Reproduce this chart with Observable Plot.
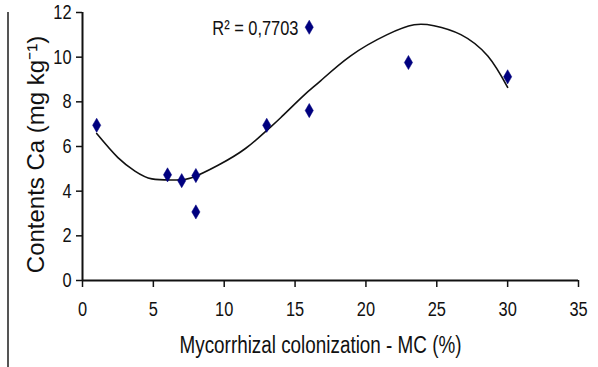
<!DOCTYPE html>
<html>
<head>
<meta charset="utf-8">
<script src="https://cdn.jsdelivr.net/npm/d3@7"></script>
<script src="https://cdn.jsdelivr.net/npm/@observablehq/plot@0.6"></script>
<style>
  html, body { margin: 0; padding: 0; background: #fff; }
  #wrap { position: relative; width: 598px; height: 367px; overflow: hidden; }
  #leftline { position: absolute; left: 7px; top: 12px; width: 2px; height: 355px; background: #555; }
</style>
</head>
<body>
<div id="wrap"><div id="chart"></div><div id="leftline"></div></div>
<script>
// Observed points: mycorrhizal colonization (%) vs Ca content (mg kg-1)
const mc = [1, 6, 7, 8, 8, 13, 16, 16, 23, 30];
const ca = [6.95, 4.73, 4.47, 4.70, 3.07, 6.95, 7.61, 11.34, 9.76, 9.12];

// Polynomial trendline
const trendX = [1, 2.5, 3.7, 4.9, 6.5, 7.7, 9.6, 11.5, 13, 14, 15.6, 16.8, 18.9, 21.5, 23.4, 24.8, 26.7, 28.6, 30];
const trendY = [6.58, 5.5, 4.9, 4.55, 4.5, 4.6, 5.17, 5.91, 6.72, 7.3, 8.28, 8.94, 10.05, 11.01, 11.45, 11.41, 11.01, 10.05, 8.65];

const xTicks = [0, 5, 10, 15, 20, 25, 30, 35];
const yTicks = [0, 2, 4, 6, 8, 10, 12];

const r2Label = ["R² = 0,7703"];
const r2Pos = {x: 12.2, y: 11.3};

const xTitle = "Mycorrhizal colonization - MC (%)";
const yTitle = "Contents Ca (mg kg⁻¹)";

const points = mc.map((x, i) => ({x, y: ca[i]}));
const trend = trendX.map((x, i) => ({x, y: trendY[i]}));

const sans = "'Liberation Sans', Arial, sans-serif";

const chart = Plot.plot({
  width: 598,
  height: 367,
  marginLeft: 82,
  marginRight: 20,
  marginTop: 12,
  marginBottom: 87,
  style: {fontFamily: sans, fontSize: "20px", color: "#111", background: "#fff"},
  x: {domain: [0, 35], ticks: xTicks},
  y: {domain: [0, 12], ticks: yTicks},
  marks: [
    Plot.axisX({ticks: xTicks, tickSize: 7, tickPadding: 14, label: null, fontSize: 20, stroke: "#111", strokeWidth: 1.5}),
    Plot.axisY({ticks: yTicks, tickSize: 6, tickPadding: 5, label: null, fontSize: 20, stroke: "#111", strokeWidth: 1.5}),
    Plot.ruleX([0], {stroke: "#111", strokeWidth: 2}),
    Plot.ruleY([0], {stroke: "#111", strokeWidth: 2}),
    Plot.line(trend, {x: "x", y: "y", curve: "natural", stroke: "#111", strokeWidth: 1.6}),
    Plot.dot(points, {x: "x", y: "y", symbol: "diamond", r: 4.3, fill: "#00007f", stroke: "#00007f", strokeWidth: 0.5}),
    Plot.text(r2Label, {x: () => r2Pos.x, y: () => r2Pos.y, text: d => d, fontSize: 20, fill: "#111", textAnchor: "middle", className: "narrow"}),
    Plot.text([xTitle], {frameAnchor: "bottom", dy: 72, dx: -10, text: d => d, fontSize: 23, fill: "#111", textAnchor: "middle", className: "narrow"}),
    Plot.text([yTitle], {frameAnchor: "left", dx: -46, dy: 8, rotate: -90, text: d => d, fontSize: 24, fill: "#111", textAnchor: "middle", className: "ytitle"})
  ]
});
document.getElementById("chart").appendChild(chart);

// Condense horizontal texts (reference uses a narrow face)
chart.querySelectorAll("text").forEach(t => {
  if (t.closest(".ytitle")) return;
  const w = t.getComputedTextLength();
  if (w > 0) {
    t.setAttribute("textLength", (w * 0.82).toFixed(2));
    t.setAttribute("lengthAdjust", "spacingAndGlyphs");
  }
});
</script>
</body>
</html>
